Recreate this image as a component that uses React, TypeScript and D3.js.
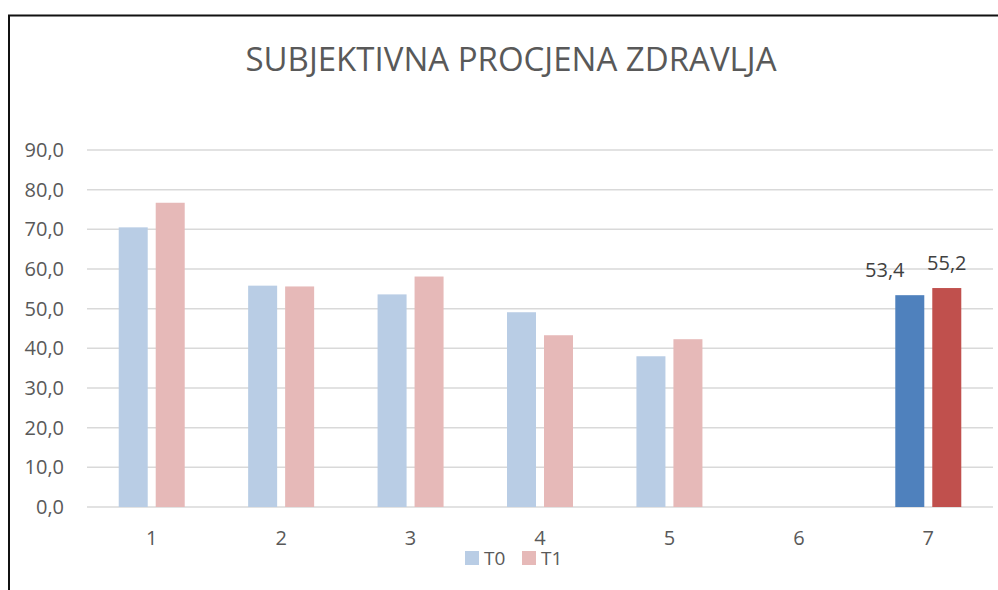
import * as d3 from "d3";
import { useEffect, useRef } from "react";

// data
const categories = ["1", "2", "3", "4", "5", "6", "7"];
const seriesNames = ["T0", "T1"];
const t0Values: (number | null)[] = [70.5, 55.8, 53.6, 49.1, 38.0, null, 53.4];
const t1Values: (number | null)[] = [76.7, 55.6, 58.1, 43.3, 42.3, null, 55.2];
const yTicks = [0, 10, 20, 30, 40, 50, 60, 70, 80, 90];
const highlighted = ["7"];

const lightColors = ["#b9cde5", "#e6b9b8"];
const darkColors = ["#4f81bd", "#c0504d"];
const labelShift = [-25, 0]; // data labels of the last group

const W = 998;
const H = 590;

const App = () => {
  const ref = useRef<SVGSVGElement>(null);

  useEffect(() => {
    const svg = d3.select(ref.current);
    svg.selectAll("*").remove();

    const margin = { top: 150, left: 87, right: 5, bottom: 83 };
    const plotBottom = H - margin.bottom;

    // frame
    svg.append("path")
      .attr("d", `M9,${H} L9,15.5 L${W},15.5`)
      .attr("fill", "none")
      .attr("stroke", "#111")
      .attr("stroke-width", 2);

    // title
    svg.append("text")
      .attr("x", 511)
      .attr("y", 71)
      .attr("text-anchor", "middle")
      .style("font-family", "'Open Sans', sans-serif")
      .style("font-size", "33px")
      .attr("fill", "#595959")
      .text("SUBJEKTIVNA PROCJENA ZDRAVLJA");

    const x = d3.scaleBand()
      .domain(categories)
      .range([margin.left, W - margin.right]);

    const y = d3.scaleLinear()
      .domain([0, 90])
      .range([plotBottom, margin.top]);

    const inner = d3.scaleBand()
      .domain(seriesNames)
      .range([0, 66])
      .paddingInner(0.216);

    // grid
    svg.append("g")
      .selectAll("line")
      .data(yTicks)
      .enter()
      .append("line")
      .attr("x1", margin.left)
      .attr("x2", W - margin.right)
      .attr("y1", d => y(d))
      .attr("y2", d => y(d))
      .attr("stroke", "#d9d9d9")
      .attr("stroke-width", 1.5);

    // y labels
    svg.append("g")
      .selectAll("text")
      .data(yTicks)
      .enter()
      .append("text")
      .attr("x", 64)
      .attr("y", d => y(d) + 7)
      .attr("text-anchor", "end")
      .style("font-family", "'Open Sans', sans-serif")
      .style("font-size", "20px")
      .attr("fill", "#595959")
      .text(d => d3.format(".1f")(d).replace(".", ","));

    // x labels
    svg.append("g")
      .selectAll("text")
      .data(categories)
      .enter()
      .append("text")
      .attr("x", d => x(d)! + x.bandwidth() / 2)
      .attr("y", 545)
      .attr("text-anchor", "middle")
      .style("font-family", "'Open Sans', sans-serif")
      .style("font-size", "20px")
      .attr("fill", "#595959")
      .text(d => d);

    // bars
    const series = [t0Values, t1Values];
    series.forEach((vals, si) => {
      const name = seriesNames[si];
      const rows = categories
        .map((c, i) => ({ c, v: vals[i] }))
        .filter(d => d.v !== null) as { c: string; v: number }[];

      svg.append("g")
        .selectAll("rect")
        .data(rows)
        .enter()
        .append("rect")
        .attr("x", d => x(d.c)! + x.bandwidth() / 2 - 33 + inner(name)!)
        .attr("y", d => y(d.v))
        .attr("width", inner.bandwidth())
        .attr("height", d => plotBottom - y(d.v))
        .attr("fill", d => highlighted.includes(d.c) ? darkColors[si] : lightColors[si]);

      // data labels only for the highlighted group
      svg.append("g")
        .selectAll("text")
        .data(rows.filter(d => highlighted.includes(d.c)))
        .enter()
        .append("text")
        .attr("x", d => x(d.c)! + x.bandwidth() / 2 - 33 + inner(name)! + inner.bandwidth() / 2 + labelShift[si])
        .attr("y", d => y(d.v) - 18)
        .attr("text-anchor", "middle")
        .style("font-family", "'Open Sans', sans-serif")
        .style("font-size", "20px")
        .attr("fill", "#404040")
        .text(d => d3.format(".1f")(d.v).replace(".", ","));
    });

    // legend
    const legendX = [465, 522];
    seriesNames.forEach((n, i) => {
      svg.append("rect")
        .attr("x", legendX[i])
        .attr("y", 551)
        .attr("width", 14)
        .attr("height", 14)
        .attr("fill", lightColors[i]);
      svg.append("text")
        .attr("x", legendX[i] + 19)
        .attr("y", 565)
        .style("font-family", "'Open Sans', sans-serif")
        .style("font-size", "19px")
        .attr("fill", "#595959")
        .text(n);
    });
  }, []);

  return (
    <svg
      ref={ref}
      width={W}
      height={H}
      style={{ position: "absolute", left: 0, top: 0, background: "#fff" }}
    />
  );
};

export default App;
